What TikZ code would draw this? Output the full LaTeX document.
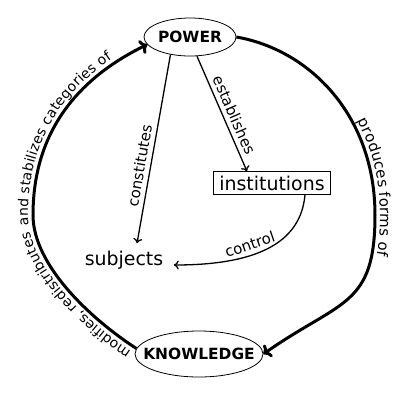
\documentclass[tikz,border=0pt]{standalone}
\usepackage{fontspec}
\setmainfont{DejaVu Sans}
\usetikzlibrary{arrows.meta,shapes.geometric,decorations.text}
\begin{document}
\begin{tikzpicture}[x=1bp,y=1bp,
  ell/.style={ellipse, draw, line width=0.8bp, inner sep=0pt, font=\fontsize{15.5}{18}\selectfont\bfseries},
  lbl/.style={font=\fontsize{15}{18}\selectfont, inner sep=4.5bp},
  innerarrow/.style={line width=1.3bp, -{To[length=5bp,width=9bp]}},
  bigarrow/.style={line width=3bp, -{To[length=7bp,width=15bp]}},
  arctext/.style={decorate, decoration={text along path, raise=5bp, #1}}
]
\useasboundingbox (0,0) rectangle (400,-400);
\node[ell, minimum width=92bp, minimum height=38bp] (power) at (190,-37) {\makebox[0pt]{POWER}};
\node[ell, minimum width=128bp, minimum height=46bp] (knowledge) at (199,-354) {\makebox[0pt]{KNOWLEDGE}};
\node[draw, line width=0.8bp, font=\fontsize{19}{22}\selectfont, inner xsep=6bp, inner ysep=4bp] (inst) at (272,-183) {institutions};
\node[font=\fontsize{19}{22}\selectfont] (subj) at (124,-260) {subjects};
\coordinate (rpt) at (375,-215);
\coordinate (lpt) at (33,-215);

\draw[innerarrow] (power.222) -- node[lbl, sloped, above, pos=0.6] {constitutes} ([xshift=13bp,yshift=4bp]subj.north);
\draw[innerarrow] (power.290) -- node[lbl, sloped, above, pos=0.55] {establishes} ([xshift=-25bp]inst.north);
\draw[innerarrow] ([xshift=33bp]inst.south) to[out=-95,in=0,out distance=50bp,in distance=80bp] node[lbl,sloped,above,pos=0.6]{control} ([xshift=7bp,yshift=-5bp]subj.east);

\draw[bigarrow] (power.east) to[out=-10,in=90,out distance=76bp,in distance=98bp] (rpt) to[out=-90,in=35,out distance=92bp,in distance=95bp] (knowledge.east);
\path[arctext={text={|\fontsize{15}{18}\selectfont|produces forms of}, text align={left, left indent=150bp}}] (power.east) to[out=-10,in=90,out distance=76bp,in distance=98bp] (rpt) to[out=-90,in=35,out distance=92bp,in distance=95bp] (knowledge.east);

\draw[bigarrow] (knowledge.175) to[out=147,in=-90,out distance=55bp,in distance=50bp] (lpt) to[out=90,in=206,out distance=85bp,in distance=75bp] (power.190);
\path[arctext={text={|\fontsize{14}{18}\selectfont|modifies, redistributes and stabilizes categories of}, text align={left, left indent=3bp}}] (knowledge.175) to[out=147,in=-90,out distance=55bp,in distance=50bp] (lpt) to[out=90,in=206,out distance=85bp,in distance=75bp] (power.190);
\end{tikzpicture}
\end{document}
